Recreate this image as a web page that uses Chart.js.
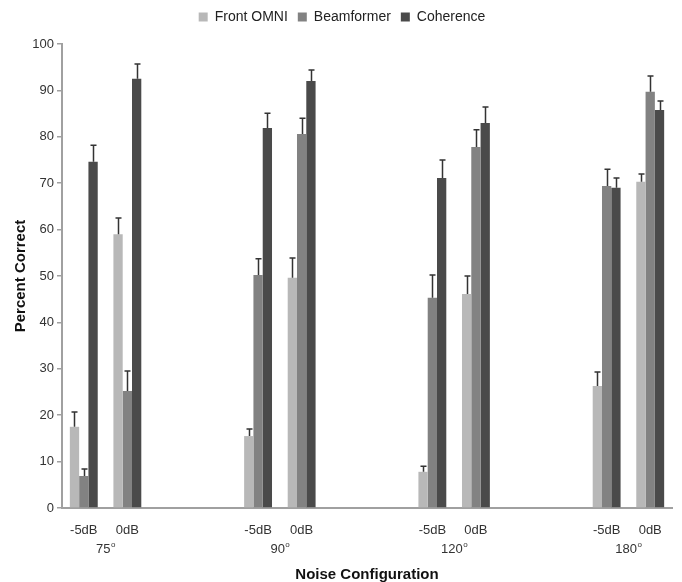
<!DOCTYPE html>
<html>
<head>
<meta charset="utf-8">
<script src="https://cdn.jsdelivr.net/npm/chart.js@4/dist/chart.umd.min.js"></script>
<style>
  html, body { margin: 0; padding: 0; background: #fff; }
  #wrap { width: 682px; height: 582px; position: relative; }
</style>
</head>
<body>
<div id="wrap"><canvas id="c" width="682" height="582"></canvas></div>
<script>
// ---- Data ----
const conditions = ['-5dB', '0dB'];
const angles = ['75', '90', '120', '180'];
const seriesNames = ['Front OMNI', 'Beamformer', 'Coherence'];
const frontOmni    = [17.5, 59.0, 15.5, 49.6, 7.8, 46.1, 26.3, 70.3];
const frontOmniErr = [3.2, 3.5, 1.5, 4.3, 1.2, 3.9, 3.0, 1.7];
const beamformer    = [6.9, 25.2, 50.2, 80.6, 45.3, 77.8, 69.4, 89.7];
const beamformerErr = [1.5, 4.3, 3.5, 3.4, 4.9, 3.7, 3.6, 3.4];
const coherence    = [74.6, 92.5, 81.9, 92.0, 71.1, 83.0, 69.0, 85.8];
const coherenceErr = [3.6, 3.2, 3.2, 2.4, 3.9, 3.4, 2.1, 1.9];
const yTicks = [0, 10, 20, 30, 40, 50, 60, 70, 80, 90, 100];

// Build category list: each angle gets its two conditions, with two spacer slots between groups
const categories = [];
const groupIndex = []; // maps real data index -> category index
angles.forEach((a, gi) => {
  conditions.forEach(c => { groupIndex.push(categories.length); categories.push(c); });
  if (gi < angles.length - 1) { categories.push(''); categories.push(''); }
});
function pad(arr) {
  const out = categories.map(() => null);
  arr.forEach((v, i) => { out[groupIndex[i]] = v; });
  return out;
}

const colors = ['#b8b8b8', '#828282', '#4a4a4a'];
const values = [frontOmni, beamformer, coherence];
const errors = [frontOmniErr, beamformerErr, coherenceErr];
const FONT = '"Liberation Sans", Arial, sans-serif';

const errorBarPlugin = {
  id: 'errorBars',
  afterDatasetsDraw(chart) {
    const ctx = chart.ctx;
    const y = chart.scales.y;
    ctx.save();
    ctx.strokeStyle = '#333';
    ctx.lineWidth = 1.5;
    chart.data.datasets.forEach((ds, di) => {
      const meta = chart.getDatasetMeta(di);
      const errs = pad(errors[di]);
      meta.data.forEach((bar, i) => {
        const v = ds.data[i];
        if (v == null || errs[i] == null) return;
        const x = Math.round(bar.x) + 0.5;
        const yTop = y.getPixelForValue(v + errs[i]);
        const yBar = y.getPixelForValue(v);
        ctx.beginPath();
        ctx.moveTo(x, yBar);
        ctx.lineTo(x, yTop);
        ctx.moveTo(x - 3, yTop);
        ctx.lineTo(x + 3, yTop);
        ctx.stroke();
      });
    });
    ctx.restore();
  }
};

const groupLabelPlugin = {
  id: 'groupLabels',
  afterDraw(chart) {
    const ctx = chart.ctx;
    const x = chart.scales.x;
    ctx.save();
    ctx.fillStyle = '#333';
    ctx.textBaseline = 'middle';
    angles.forEach((a, gi) => {
      const c0 = groupIndex[gi * 2], c1 = groupIndex[gi * 2 + 1];
      const cx = (x.getPixelForValue(c0) + x.getPixelForValue(c1)) / 2;
      ctx.font = '13px ' + FONT;
      const w = ctx.measureText(a).width;
      ctx.font = '8px ' + FONT;
      const wo = ctx.measureText('o').width;
      const start = cx - (w + wo) / 2;
      const yy = x.bottom - 33;
      ctx.font = '13px ' + FONT;
      ctx.textAlign = 'left';
      ctx.fillText(a, start, yy);
      ctx.font = '8px ' + FONT;
      ctx.fillText('o', start + w + 0.5, yy - 4);
    });
    ctx.restore();
  }
};

const legendHeightPlugin = {
  id: 'legendHeight',
  afterInit(chart) {
    const lg = chart.legend;
    if (!lg) return;
    const orig = lg.fit.bind(lg);
    lg.fit = function () { orig(); this.height = 44; };
  }
};

new Chart(document.getElementById('c'), {
  type: 'bar',
  data: {
    labels: categories,
    datasets: seriesNames.map((n, i) => ({
      label: n,
      data: pad(values[i]),
      backgroundColor: colors[i],
      borderWidth: 0,
      categoryPercentage: 0.64,
      barPercentage: 1.0,
      skipNull: false
    }))
  },
  options: {
    responsive: false,
    animation: false,
    devicePixelRatio: 1,
    layout: { padding: { left: 12, right: 10, top: 0, bottom: 0 } },
    plugins: {
      legend: {
        position: 'top',
        labels: {
          boxWidth: 9, boxHeight: 9,
          color: '#222',
          font: { family: FONT, size: 14 },
          padding: 10
        }
      },
      tooltip: { enabled: false }
    },
    scales: {
      x: {
        grid: { display: false, drawTicks: false },
        border: { display: true, color: '#a0a0a0', width: 2 },
        ticks: {
          color: '#333',
          font: { family: FONT, size: 13 },
          padding: 15,
          autoSkip: false,
          maxRotation: 0
        },
        title: {
          display: true,
          text: 'Noise Configuration',
          color: '#111',
          font: { family: FONT, size: 15, weight: 'bold', lineHeight: 1 },
          padding: { top: 0, bottom: 0 }
        },
        afterFit(s) { s.height = 74; }
      },
      y: {
        min: 0, max: 100,
        afterBuildTicks(s) { s.ticks = yTicks.map(v => ({ value: v })); },
        grid: { display: true, drawOnChartArea: false, drawTicks: true, tickLength: 5, color: '#a0a0a0', lineWidth: 1.5 },
        border: { display: true, color: '#a0a0a0', width: 2 },
        ticks: {
          color: '#333',
          font: { family: FONT, size: 13 },
          padding: 3
        },
        title: {
          display: true,
          text: 'Percent Correct',
          color: '#111',
          font: { family: FONT, size: 15, weight: 'bold' },
          padding: { top: 0, bottom: 4 }
        },
        afterFit(s) { s.width = 50; }
      }
    }
  },
  plugins: [errorBarPlugin, groupLabelPlugin, legendHeightPlugin]
});
</script>
</body>
</html>
